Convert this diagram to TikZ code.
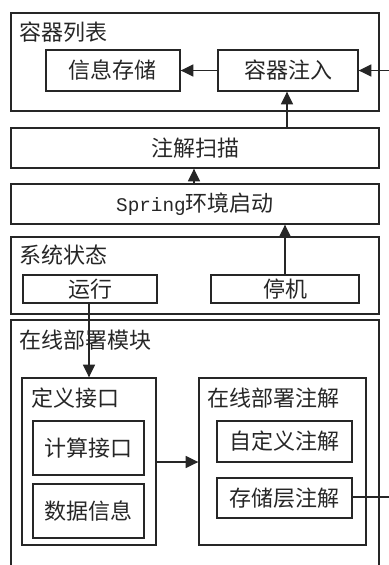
\documentclass[tikz,border=0pt]{standalone}
\usepackage{fontspec}
\newfontfamily\cjk{Noto Sans CJK SC}
\newfontfamily\monof{Liberation Mono}
\usetikzlibrary{arrows.meta,fit,calc}
\tikzset{
  box/.style={draw=black!85, line width=1pt, inner sep=0pt, fit={#1}},
  txt/.style={inner sep=0pt, font=\cjk\fontsize{16.5}{18}\selectfont, text=black!85},
  ttl/.style={txt, anchor=west},
  arr/.style={draw=black!85, line width=1pt, -{Triangle[length=9.5pt,width=9pt]}},
  ln/.style={draw=black!85, line width=1pt}
}
\begin{document}
\begin{tikzpicture}[x=0.75pt,y=-0.75pt]
\useasboundingbox (0,0) rectangle (389,565);
\clip (0,0) rectangle (389,565);
% top container
\node[box={(11,13)(379,111)}] (clist) {};
\node[ttl] (clistT) at (19,32) {容器列表};
\node[box={(46,50)(180,91)}] (store) {};
\node[txt] (storeT) at (store.center) {信息存储};
\node[box={(218,50)(358,91)}] (inject) {};
\node[txt] (injectT) at (inject.center) {容器注入};
% scan and spring
\node[box={(11,128)(379,168)}] (scan) {};
\node[txt] (scanT) at (scan.center) {注解扫描};
\node[box={(11,184)(379,224)}] (spring) {};
\node[txt] (springT) at (spring.center) {{\monof\fontsize{14.5}{16}\selectfont Spring}环境启动};
% system state
\node[box={(11,237)(379,314)}] (sys) {};
\node[ttl] (sysT) at (19,255) {系统状态};
\node[box={(23,275)(157,303)}] (run) {};
\node[txt] (runT) at (run.center) {运行};
\node[box={(211,275)(359,303)}] (stop) {};
\node[txt] (stopT) at (stop.center) {停机};
% online deploy module
\node[box={(11,320)(379,600)}] (mod) {};
\node[ttl] (modT) at (19,340) {在线部署模块};
\node[box={(22,378)(156,545)}] (def) {};
\node[ttl] (defT) at (31,398) {定义接口};
\node[box={(33,421)(144,475)}] (calc) {};
\node[txt] (calcT) at (calc.center) {计算接口};
\node[box={(33,484)(144,538)}] (data) {};
\node[txt] (dataT) at (data.center) {数据信息};
\node[box={(199,378)(366,545)}] (anno) {};
\node[ttl] (annoT) at (207,398) {在线部署注解};
\node[box={(217,421)(352,462)}] (custom) {};
\node[txt] (customT) at (custom.center) {自定义注解};
\node[box={(217,478)(352,518)}] (layer) {};
\node[txt] (layerT) at (layer.center) {存储层注解};
% connectors
\coordinate (far) at (400,0);
\draw[arr] (inject) -- (store);
\draw[arr] (layer.east |- 0,497) -- (far |- 0,497) -- (far |- inject.east) -- (inject.east);
\draw[arr] (scan.north -| 287,0) -- (inject.south -| 287,0);
\draw[arr] (spring.north -| 194,0) -- (scan.south -| 194,0);
\draw[arr] (stop.north -| 285,0) -- (spring.south -| 285,0);
\draw[arr] (run.south -| 89,0) -- (def.north -| 89,0);
\draw[arr] (def.east |- 0,462) -- (anno.west |- 0,462);
\end{tikzpicture}
\end{document}
